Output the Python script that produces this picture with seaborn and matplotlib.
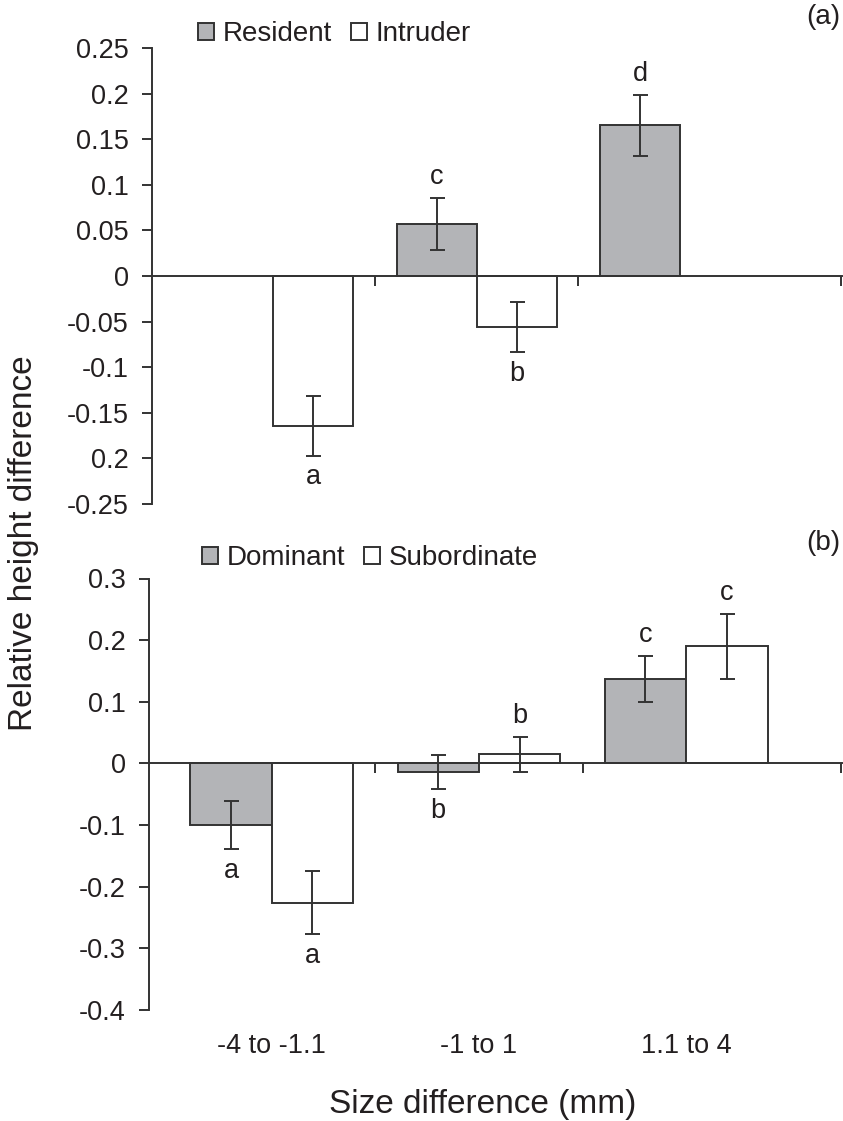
import numpy as np
import pandas as pd
import matplotlib
matplotlib.use("Agg")
import matplotlib.pyplot as plt
import seaborn as sns

# ---------------- data ----------------
categories = ["-4 to -1.1", "-1 to 1", "1.1 to 4"]

# panel (a)
roles_a = ["Resident", "Intruder"]
resident_mean = [np.nan, 0.0568, 0.1653]
resident_se = [np.nan, 0.0284, 0.0335]
resident_letters = ["", "c", "d"]
intruder_mean = [-0.1645, -0.0560, np.nan]
intruder_se = [0.0325, 0.0274, np.nan]
intruder_letters = ["a", "b", ""]

# panel (b)
roles_b = ["Dominant", "Subordinate"]
dominant_mean = [-0.100, -0.014, 0.137]
dominant_se = [0.039, 0.028, 0.038]
dominant_letters = ["a", "b", "c"]
subordinate_mean = [-0.226, 0.015, 0.190]
subordinate_se = [0.051, 0.0285, 0.0525]
subordinate_letters = ["a", "b", "c"]

yticks_a = [0.25, 0.2, 0.15, 0.1, 0.05, 0, -0.05, -0.1, -0.15, -0.2, -0.25]
yticklabels_a = ["0.25", "0.2", "0.15", "0.1", "0.05", "0", "-0.05", "-0.1",
                 "-0.15", "0.2", "-0.25"]
yticks_b = [0.3, 0.2, 0.1, 0, -0.1, -0.2, -0.3, -0.4]
yticklabels_b = ["0.3", "0.2", "0.1", "0", "-0.1", "-0.2", "-0.3", "-0.4"]

# ---------------- style ----------------
sns.set_style("white")
plt.rcParams["font.family"] = ["Liberation Sans", "DejaVu Sans"]

GRAY = "#b3b4b7"
EDGE = "#333333"
TEXT = "#231f20"
LW = 1.4
GROUP_W = 0.786
TICK_FS = 19.5

W, H = 843, 1121
fig = plt.figure(figsize=(W / 100, H / 100), dpi=100)
fig.patch.set_facecolor("white")

ax_a = fig.add_axes([152 / W, 1 - 504 / H, (842 - 152) / W, (504 - 48) / H])
ax_b = fig.add_axes([149.3 / W, 1 - 1010 / H, (842 - 149.3) / W, (1010 - 578.5) / H])


def build(roles, means, ses, letters):
    rows = []
    for role, m, s, l in zip(roles, means, ses, letters):
        for cat, mv, sv, lv in zip(categories, m, s, l):
            rows.append(dict(size=cat, role=role, mean=mv, se=sv, letter=lv))
    return pd.DataFrame(rows).dropna(subset=["mean"]).reset_index(drop=True)


def panel(ax, df, roles, xlim, ylim, yticks, yticklabels, legend_xy):
    sns.barplot(data=df, x="size", y="mean", hue="role", order=categories,
                hue_order=roles, palette={roles[0]: GRAY, roles[1]: "white"},
                edgecolor=EDGE, linewidth=LW, width=GROUP_W, errorbar=None,
                saturation=1, ax=ax)
    offsets = {roles[0]: -GROUP_W / 4, roles[1]: GROUP_W / 4}
    xs = df["size"].map(categories.index) + df["role"].map(offsets)
    ax.errorbar(xs, df["mean"], yerr=df["se"], fmt="none", ecolor=EDGE,
                elinewidth=LW, capsize=5.4, capthick=LW, zorder=3)
    for x, m, s, l in zip(xs, df["mean"], df["se"], df["letter"]):
        if m >= 0:
            ax.annotate(l, (x, m + s), xytext=(0, 10), textcoords="offset points",
                        ha="center", va="baseline", fontsize=TICK_FS, color=TEXT)
        else:
            ax.annotate(l, (x, m - s), xytext=(0, -20.5), textcoords="offset points",
                        ha="center", va="baseline", fontsize=TICK_FS, color=TEXT)

    ax.set_xlim(*xlim)
    ax.set_ylim(*ylim)
    ax.set_xlabel("")
    ax.set_ylabel("")
    for side in ("top", "right"):
        ax.spines[side].set_visible(False)
    ax.spines["bottom"].set_position(("data", 0))
    for side in ("left", "bottom"):
        ax.spines[side].set_linewidth(LW)
        ax.spines[side].set_color(EDGE)
    ax.set_xticks([0.5, 1.5, xlim[1] - 0.004])
    ax.tick_params(axis="x", bottom=True, direction="out", length=7.2, width=LW,
                   color=EDGE, labelbottom=False)
    ax.set_yticks(yticks, yticklabels)
    ax.tick_params(axis="y", left=True, direction="out", length=7.2, width=LW,
                   color=EDGE, pad=9.7, labelsize=TICK_FS, labelcolor=TEXT)

    handles, labels = ax.get_legend_handles_labels()
    ax.legend(handles, labels, ncol=2, frameon=False, loc="center left",
              bbox_to_anchor=legend_xy, bbox_transform=fig.transFigure,
              borderpad=0, borderaxespad=0, handlelength=0.57, handleheight=0.57,
              handletextpad=0.32, columnspacing=0.68, fontsize=20,
              labelcolor=TEXT)


df_a = build(roles_a, [resident_mean, intruder_mean], [resident_se, intruder_se],
             [resident_letters, intruder_letters])
df_b = build(roles_b, [dominant_mean, subordinate_mean], [dominant_se, subordinate_se],
             [dominant_letters, subordinate_letters])

panel(ax_a, df_a, roles_a, (-0.595, 2.796), (-0.25, 0.25), yticks_a, yticklabels_a,
      (198 / W, 1 - 34 / H))
panel(ax_b, df_b, roles_b, (-0.591, 2.752), (-0.4, 0.3), yticks_b, yticklabels_b,
      (202 / W, 1 - 558 / H))

# category labels at the bottom of panel (b)
sec = ax_b.secondary_xaxis("bottom")
sec.set_xticks(range(len(categories)), categories)
sec.tick_params(bottom=False, length=0, pad=16.5, labelsize=TICK_FS, labelcolor=TEXT)
sec.spines["bottom"].set_visible(False)

fig.text(840 / W, 1 - 17 / H, "(a)", ha="right", va="center", fontsize=20, color=TEXT)
fig.text(840 / W, 1 - 543 / H, "(b)", ha="right", va="center", fontsize=20, color=TEXT)
fig.text(24 / W, 1 - 543 / H, "Relative height difference", rotation=90,
         ha="center", va="center", fontsize=24, color=TEXT)
fig.text(482.5 / W, 1 - 1104 / H, "Size difference (mm)", ha="center", va="center",
         fontsize=24, color=TEXT)

fig.savefig("out.png", dpi=100, facecolor="white")
